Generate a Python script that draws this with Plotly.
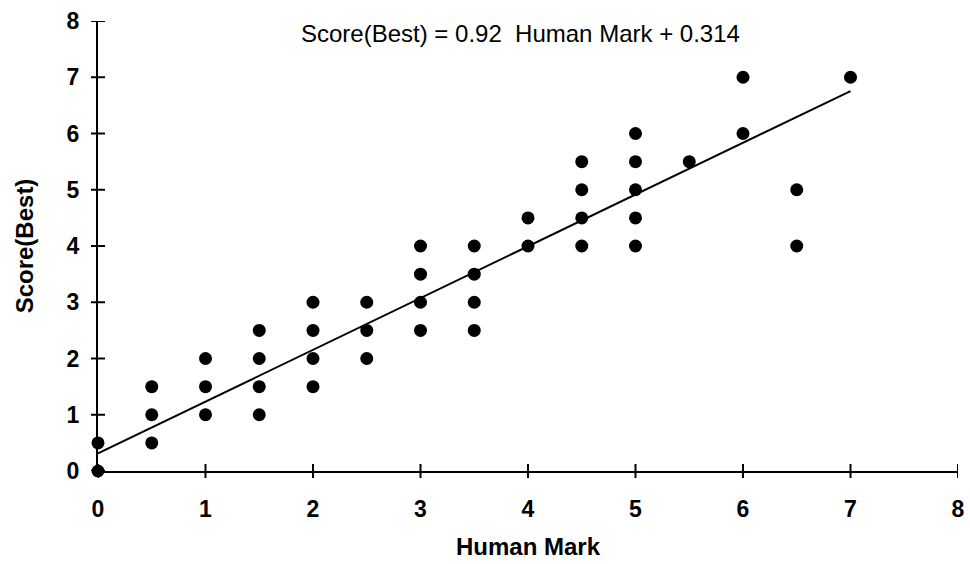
import plotly.graph_objects as go

# Human marks and corresponding best scores
human_mark = [0, 0,
              0.5, 0.5, 0.5,
              1, 1, 1,
              1.5, 1.5, 1.5, 1.5,
              2, 2, 2, 2,
              2.5, 2.5, 2.5,
              3, 3, 3, 3,
              3.5, 3.5, 3.5, 3.5,
              4, 4,
              4.5, 4.5, 4.5, 4.5,
              5, 5, 5, 5, 5,
              5.5,
              6, 6,
              6.5, 6.5,
              7]
score_best = [0, 0.5,
              0.5, 1, 1.5,
              1, 1.5, 2,
              1, 1.5, 2, 2.5,
              1.5, 2, 2.5, 3,
              2, 2.5, 3,
              2.5, 3, 3.5, 4,
              2.5, 3, 3.5, 4,
              4, 4.5,
              4, 4.5, 5, 5.5,
              4, 4.5, 5, 5.5, 6,
              5.5,
              6, 7,
              4, 5,
              7]

# Linear fit
slope = 0.92
intercept = 0.314
fit_x = [0, 7]
fit_y = [slope * v + intercept for v in fit_x]

tick_vals = [0, 1, 2, 3, 4, 5, 6, 7, 8]

FONT = "Liberation Sans, Arial, sans-serif"
TICK_HALF = 7  # half-length of the crossing tick marks, px

fig = go.Figure()
fig.add_trace(go.Scatter(x=fit_x, y=fit_y, mode="lines",
                         line=dict(color="black", width=2),
                         hoverinfo="skip", cliponaxis=False))
fig.add_trace(go.Scatter(x=human_mark, y=score_best, mode="markers",
                         marker=dict(color="black", size=13),
                         cliponaxis=False))

axis_common = dict(range=[0, 8], tickvals=tick_vals, showgrid=False,
                   zeroline=False, showline=True, linecolor="black",
                   linewidth=2, ticks="", automargin=False,
                   layer="below traces")

# crossing tick marks: placed at data values along one axis, pixel length across it
shapes = []
for v in tick_vals:
    shapes.append(dict(type="line", xref="x", yref="paper", ysizemode="pixel",
                       yanchor=0, x0=v, x1=v, y0=-TICK_HALF, y1=TICK_HALF,
                       line=dict(color="black", width=2), layer="below"))
    shapes.append(dict(type="line", xref="paper", yref="y", xsizemode="pixel",
                       xanchor=0, y0=v, y1=v, x0=-TICK_HALF, x1=TICK_HALF,
                       line=dict(color="black", width=2), layer="below"))

fig.update_layout(
    width=970, height=564,
    margin=dict(l=98, r=12, t=21, b=93),
    paper_bgcolor="white", plot_bgcolor="white",
    showlegend=False,
    font=dict(family=FONT, color="black"),
    xaxis=dict(**axis_common,
               tickfont=dict(size=23, family=FONT, weight="bold"),
               ticklabelstandoff=16,
               title=dict(text="<b>Human Mark</b>", font=dict(size=24), standoff=18)),
    yaxis=dict(**axis_common,
               tickfont=dict(size=23, family=FONT, weight="bold"),
               ticklabelstandoff=12,
               title=dict(text="<b>Score(Best)</b>", font=dict(size=24), standoff=26)),
    shapes=shapes,
    annotations=[dict(text="Score(Best) = 0.92  Human Mark + 0.314",
                      xref="paper", yref="paper", x=0.491, y=0.972,
                      xanchor="center", yanchor="middle", showarrow=False,
                      font=dict(size=24, family=FONT))],
)

fig.write_html("out.html")
